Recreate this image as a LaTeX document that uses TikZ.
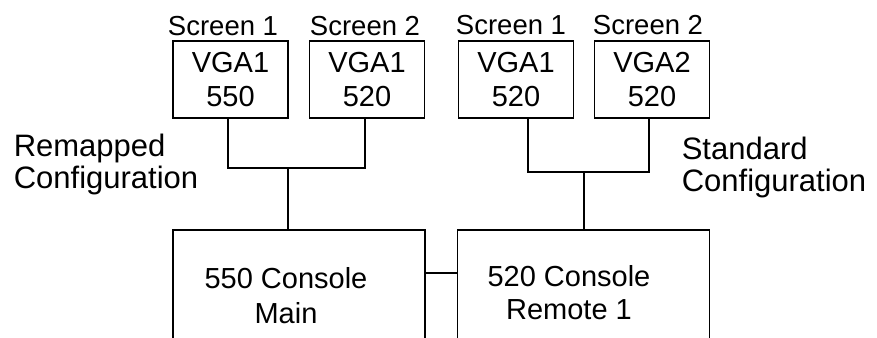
\documentclass[tikz,border=0pt]{standalone}
\usepackage{fontspec}
\setmainfont{Liberation Sans}
\begin{document}
\begin{tikzpicture}[x=1pt,y=-1pt,line width=1.6pt,
  screenbox/.style={draw, minimum width=115pt, minimum height=77pt, inner sep=0pt, align=center, font=\fontsize{29}{34}\selectfont},
  consolebox/.style={draw, minimum width=252pt, minimum height=140pt, inner sep=0pt},
  boxtext/.style={inner sep=0pt, align=center, font=\fontsize{29}{35}\selectfont},
  scrlabel/.style={inner sep=0pt, anchor=base, font=\fontsize{27.5}{30}\selectfont},
  cfglabel/.style={inner sep=0pt, anchor=base west, font=\fontsize{31}{34}\selectfont}]
\useasboundingbox (0,0) rectangle (877,337);
\clip (0,0) rectangle (877,337);
% screen boxes
\node[screenbox] (a) at (230.5,79.5) {VGA1\\550};
\node[screenbox] (b) at (367,79.5) {VGA1\\520};
\node[screenbox] (e) at (516,79.5) {VGA1\\520};
\node[screenbox] (f) at (652,79.5) {VGA2\\520};
% screen labels
\node[scrlabel] (sa) at (223,36) {Screen 1};
\node[scrlabel] (sb) at (365,36) {Screen 2};
\node[scrlabel] (se) at (511,35) {Screen 1};
\node[scrlabel] (sf) at (648,35) {Screen 2};
% consoles
\node[consolebox] (c) at (299,300) {};
\node[consolebox] (d) at (583.5,300) {};
\node[boxtext] (ct) at (286,296) {550 Console\\Main};
\node[boxtext, font=\fontsize{29}{33}\selectfont] (dt) at (569,293) {520 Console\\Remote 1};
% configuration labels
\node[cfglabel] (rem1) at (13,156) {Remapped};
\node[cfglabel] (rem2) at (13,188) {Configuration};
\node[cfglabel] (std1) at (681,159) {Standard};
\node[cfglabel] (std2) at (681,191) {Configuration};
% connectors
\coordinate (lj) at (288,168);
\coordinate (rj) at (584,172);
\draw ([xshift=-2.5pt]a.south) |- (lj) -| ([xshift=-2pt]b.south);
\draw (lj) -- (lj |- c.north);
\draw ([xshift=12pt]e.south) |- (rj) -| ([xshift=-3pt]f.south);
\draw (rj) -- (rj |- d.north);
\draw ([yshift=27pt]c.east) -- ([yshift=27pt]d.west);
\end{tikzpicture}
\end{document}
